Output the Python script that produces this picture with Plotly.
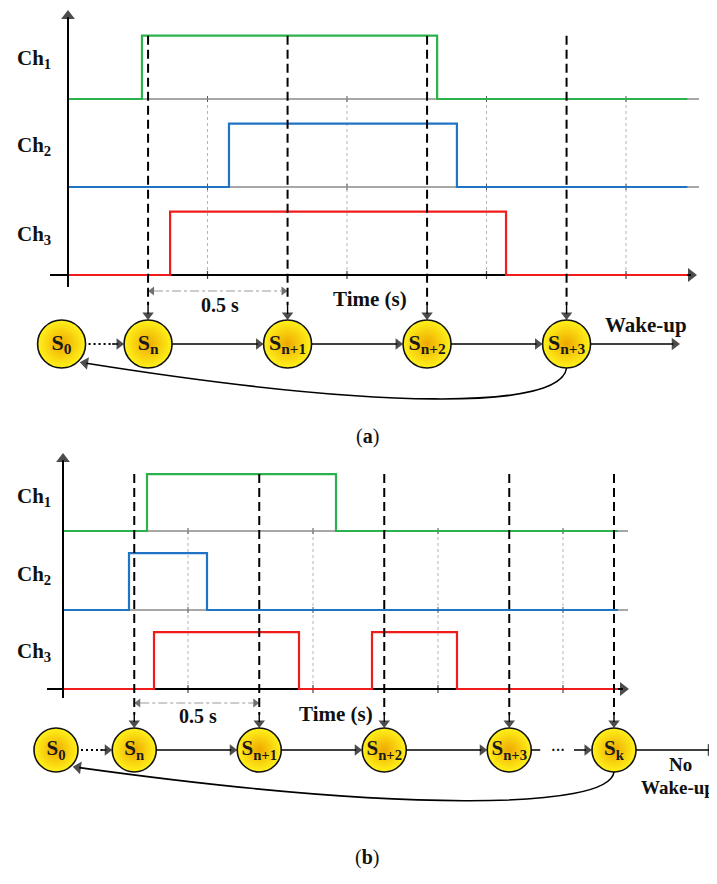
import math
import plotly.graph_objects as go

# ---------------- data (time in seconds, level in channel units) ----------------
GRID_T = [0.5, 1.0, 1.5, 2.0]
PULSE_H = 0.72
BASELINES = [2, 1, 0]
CHANNELS = ["Ch<sub>1</sub>", "Ch<sub>2</sub>", "Ch<sub>3</sub>"]
CH_COLORS = ["#2bb24c", "#1f74c4", "#f01c1c"]

# Panel (a)
SAMPLE_T_A = [0.287, 0.787, 1.287, 1.787]
S0_T_A = -0.023
CH1_A = [0.265, 1.323]
CH2_A = [0.577, 1.394]
CH3_A = [0.366, 1.570]
END_A = 2.22
STATES_A = ["S<sub>0</sub>", "S<sub>n</sub>", "S<sub>n+1</sub>", "S<sub>n+2</sub>", "S<sub>n+3</sub>"]

# Panel (b)
SAMPLE_T_B = [0.285, 0.785, 1.285, 1.785, 2.204]
S0_T_B = -0.028
CH1_B = [0.336, 1.092]
CH2_B = [0.264, 0.576]
CH3_B = [0.364, 0.944, 1.236, 1.576]
END_B = 2.22
STATES_B = ["S<sub>0</sub>", "S<sub>n</sub>", "S<sub>n+1</sub>", "S<sub>n+2</sub>", "S<sub>n+3</sub>", "S<sub>k</sub>"]

W, H = 717, 884
PAGE_OFF = 8   # the page body margin shifts the figure by this many pixels
SPLIT = 450    # pixel row splitting the two panels
FONT = "Liberation Serif"

PANEL_A = dict(xr="x", yr="y", ox=68, oy=275, sx=279, sy=88, top=PAGE_OFF, bottom=SPLIT,
               samples=SAMPLE_T_A, s0=S0_T_A, chans=[CH1_A, CH2_A, CH3_A], end=END_A,
               states=STATES_A, cy=344, r=24, msize=48, tsize=22,
               yaxis_top=10, yaxis_bot=287, axis_start=50, axis_tip=697, base_end=699,
               dash_bottom=305, dbl_y=291, half_label=(220, 305), time_label=(370, 299),
               ch_y=[59, 146, 235], c1=(-6, 66), c2=(-186, 66), cend=0.76,
               wake_end=680, kind="a")
PANEL_B = dict(xr="x2", yr="y2", ox=63, oy=689, sx=250, sy=79, top=SPLIT, bottom=H,
               samples=SAMPLE_T_B, s0=S0_T_B, chans=[CH1_B, CH2_B, CH3_B], end=END_B,
               states=STATES_B, cy=750, r=22, msize=44, tsize=21,
               yaxis_top=453, yaxis_bot=698, axis_start=47, axis_tip=629, base_end=628,
               dash_bottom=715, dbl_y=703, half_label=(198, 716), time_label=(336, 714),
               ch_y=[497, 575, 652], c1=(-5, 60), c2=(-215, 62), cend=0.76,
               wake_end=716, kind="b")

fig = go.Figure()


def text(xr, yr, x, y, s, size, xanchor="center", color="#111"):
    fig.add_annotation(x=x, y=y, xref=xr, yref=yr, text=s, showarrow=False,
                       xanchor=xanchor, yanchor="middle",
                       font=dict(family=FONT, size=size, color=color))


def step_xy(edges, base, t_end):
    xs, ys = [0.0], [base]
    for i, e in enumerate(edges):
        lo, hi = base, base + PULSE_H
        before, after = (lo, hi) if i % 2 == 0 else (hi, lo)
        xs += [e, e]
        ys += [before, after]
    xs.append(t_end)
    ys.append(base)
    return xs, ys


def panel(P):
    xr, yr = P["xr"], P["yr"]
    ax_name = "x" if xr == "x" else "x2"
    ay_name = "y" if yr == "y" else "y2"
    X = lambda px: (px - P["ox"]) / P["sx"]
    Y = lambda py: (P["oy"] - py) / P["sy"]
    PX = lambda t: P["ox"] + P["sx"] * t
    PY = lambda v: P["oy"] - P["sy"] * v
    heads = {"x": [], "y": [], "angle": [], "size": [], "color": []}

    def line_px(x0, y0, x1, y1, color="black", width=1.5, dash=None, layer="above"):
        ln = dict(color=color, width=width)
        if dash:
            ln["dash"] = dash
        fig.add_shape(type="line", xref=xr, yref=yr, x0=X(x0), y0=Y(y0), x1=X(x1), y1=Y(y1),
                      line=ln, layer=layer)

    def head(tip, tail, size=10, color="black"):
        ddx, ddy = tip[0] - tail[0], tip[1] - tail[1]
        L = math.hypot(ddx, ddy)
        ux, uy = ddx / L, ddy / L
        cxp, cyp = tip[0] - ux * size / 2, tip[1] - uy * size / 2
        heads["x"].append(X(cxp))
        heads["y"].append(Y(cyp))
        heads["angle"].append(math.degrees(math.atan2(ux, -uy)))
        heads["size"].append(size)
        heads["color"].append(color)
        return (tip[0] - ux * size * 0.6, tip[1] - uy * size * 0.6)

    def arrow(tip, tail, width=1.5, size=10, color="black", dash=None):
        base = head(tip, tail, size, color)
        line_px(tail[0], tail[1], base[0], base[1], color=color, width=width, dash=dash)

    # grey dotted grid verticals and ticks
    for t in GRID_T:
        fig.add_shape(type="line", xref=xr, yref=yr, x0=t, x1=t, y0=BASELINES[0], y1=0,
                      line=dict(color="#b5b5b5", width=1, dash="3px,3px"), layer="below")
        for b in BASELINES[:2]:
            line_px(PX(t), PY(b) - 3, PX(t), PY(b) + 3, color="#555", width=1, layer="below")
        line_px(PX(t), PY(0) - 4, PX(t), PY(0) + 4, color="#444", width=1.2, layer="below")

    # grey baselines for Ch1, Ch2
    for b in BASELINES[:2]:
        fig.add_trace(go.Scatter(x=[0, X(P["base_end"])], y=[b, b], mode="lines",
                                 line=dict(color="#8a8a8a", width=1.3), hoverinfo="skip",
                                 xaxis=ax_name, yaxis=ay_name, showlegend=False))
    # time axis
    fig.add_trace(go.Scatter(x=[X(P["axis_start"]), X(P["axis_tip"] - 6)], y=[0, 0], mode="lines",
                             line=dict(color="black", width=2), hoverinfo="skip",
                             xaxis=ax_name, yaxis=ay_name, showlegend=False))
    # signals
    for edges, base, col in zip(P["chans"], BASELINES, CH_COLORS):
        xs, ys = step_xy(edges, base, P["end"])
        fig.add_trace(go.Scatter(x=xs, y=ys, mode="lines", line=dict(color=col, width=2.2),
                                 hoverinfo="skip", xaxis=ax_name, yaxis=ay_name, showlegend=False))
    head((P["axis_tip"], PY(0)), (P["axis_tip"] - 20, PY(0)), size=12)

    # y axis with arrow
    arrow((PX(0), P["yaxis_top"]), (PX(0), P["yaxis_bot"]), width=2, size=12)

    # channel labels
    for lab, py in zip(CHANNELS, P["ch_y"]):
        text(xr, yr, X(15), Y(py), "<b>" + lab + "</b>", 21, xanchor="left")

    # dashed sampling lines with arrows to the states
    cy, r = P["cy"], P["r"]
    for t in P["samples"]:
        fig.add_shape(type="line", xref=xr, yref=yr, x0=t, x1=t, y0=BASELINES[0] + PULSE_H,
                      y1=Y(P["dash_bottom"]), line=dict(color="black", width=2, dash="9px,5px"))
        arrow((PX(t), cy - r), (PX(t), P["dash_bottom"]), width=1.4, size=10)

    # 0.5 s interval marker
    x0p, x1p = PX(P["samples"][0]), PX(P["samples"][1])
    yp = P["dbl_y"]
    line_px(x0p + 6, yp, x1p - 6, yp, color="#9a9a9a", width=1, dash="dashdot")
    head((x0p, yp), (x0p + 9, yp), size=8, color="#333")
    head((x1p, yp), (x1p - 9, yp), size=8, color="#333")
    hx, hy = P["half_label"]
    text(xr, yr, X(hx), Y(hy), "<b>0.5 s</b>", 20)
    tx, ty = P["time_label"]
    text(xr, yr, X(tx), Y(ty), "<b>Time (s)</b>", 21)

    # S0 -> Sn dotted arrow
    st_t = [P["s0"]] + list(P["samples"])
    s0r = PX(P["s0"]) + r
    snl = PX(st_t[1]) - r
    line_px(s0r + 3, cy, snl - 10, cy, width=2.2, dash="2px,3px")
    arrow((snl, cy), (snl - 12, cy), width=1.5, size=10)

    # solid arrows between consecutive states
    n_solid = len(st_t) - 2 if P["kind"] == "a" else len(st_t) - 3
    for i in range(1, 1 + n_solid):
        a_r = PX(st_t[i]) + r
        b_l = PX(st_t[i + 1]) - r
        arrow((b_l, cy), (a_r, cy), width=1.5, size=10)
    if P["kind"] == "b":
        a_r = PX(st_t[-2]) + r
        b_l = PX(st_t[-1]) - r
        line_px(a_r, cy, a_r + 9, cy, width=1.5)
        text(xr, yr, X((a_r + b_l) / 2 - 4), Y(cy), "<b>···</b>", 14)
        arrow((b_l, cy), (b_l - 18, cy), width=1.5, size=10)

    # outgoing arrow
    last_r = PX(st_t[-1]) + r
    arrow((P["wake_end"], cy), (last_r, cy), width=1.6, size=11)
    if P["kind"] == "a":
        text(xr, yr, X(646), Y(325), "<b>Wake-up</b>", 21)
    else:
        text(xr, yr, X(680), Y(764), "<b>No</b>", 19)
        text(xr, yr, X(678), Y(787), "<b>Wake-up</b>", 19)

    # feedback curve from last state back to S0
    lx = PX(st_t[-1])
    p0 = (lx, cy + r)
    p1 = (lx + P["c1"][0], cy + P["c1"][1])
    p2 = (lx + P["c2"][0], cy + P["c2"][1])
    s0x = PX(P["s0"])
    p3 = (s0x + r * P["cend"], cy + r * P["cend"])
    base = head(p3, p2, size=11)
    path = "M {},{} C {},{} {},{} {},{}".format(
        X(p0[0]), Y(p0[1]), X(p1[0]), Y(p1[1]), X(p2[0]), Y(p2[1]), X(base[0]), Y(base[1]))
    fig.add_shape(type="path", xref=xr, yref=yr, path=path, line=dict(color="black", width=1.6))

    # state circles
    vy = Y(cy)
    fig.add_trace(go.Scatter(
        x=st_t, y=[vy] * len(st_t), mode="markers+text",
        text=["<b>" + s + "</b>" for s in P["states"]], textposition="middle center",
        textfont=dict(family=FONT, size=P["tsize"], color="#1a1a1a"),
        marker=dict(size=P["msize"], color="#fff21a",
                    gradient=dict(type="radial", color="#efa800"),
                    line=dict(color="#111", width=1.6)),
        hoverinfo="skip", cliponaxis=False, xaxis=ax_name, yaxis=ay_name, showlegend=False))

    # arrowheads
    fig.add_trace(go.Scatter(
        x=heads["x"], y=heads["y"], mode="markers",
        marker=dict(symbol="triangle-up", size=heads["size"], angle=heads["angle"],
                    color=heads["color"], line=dict(width=0)),
        hoverinfo="skip", cliponaxis=False, xaxis=ax_name, yaxis=ay_name, showlegend=False))


panel(PANEL_A)
panel(PANEL_B)

FW, FH = W - PAGE_OFF, H - PAGE_OFF


def paper_x(px):
    return (px - PAGE_OFF) / FW


def paper_y(py):
    return 1 - (py - PAGE_OFF) / FH


# captions
fig.add_annotation(x=paper_x(367), y=paper_y(436), xref="paper", yref="paper", showarrow=False,
                   text="(<b>a</b>)", font=dict(family=FONT, size=20, color="#111"))
fig.add_annotation(x=paper_x(367), y=paper_y(871), xref="paper", yref="paper", showarrow=False,
                   text="(<b>b</b>)", font=dict(family=FONT, size=20, color="#111"))


def rng(P):
    xr = [(PAGE_OFF - P["ox"]) / P["sx"], (W - P["ox"]) / P["sx"]]
    yr = [(P["oy"] - P["bottom"]) / P["sy"], (P["oy"] - P["top"]) / P["sy"]]
    dom = [paper_y(P["bottom"]), paper_y(P["top"])]
    return xr, yr, dom


xa, ya, da = rng(PANEL_A)
xb, yb, db = rng(PANEL_B)
hidden = dict(visible=False, showgrid=False, zeroline=False, fixedrange=True)
fig.update_layout(
    width=FW, height=FH, margin=dict(l=0, r=0, t=0, b=0),
    paper_bgcolor="white", plot_bgcolor="white", showlegend=False,
    xaxis=dict(domain=[0, 1], range=xa, anchor="y", **hidden),
    yaxis=dict(domain=da, range=ya, anchor="x", **hidden),
    xaxis2=dict(domain=[0, 1], range=xb, anchor="y2", **hidden),
    yaxis2=dict(domain=db, range=yb, anchor="x2", **hidden),
)

fig.write_html("out.html")
